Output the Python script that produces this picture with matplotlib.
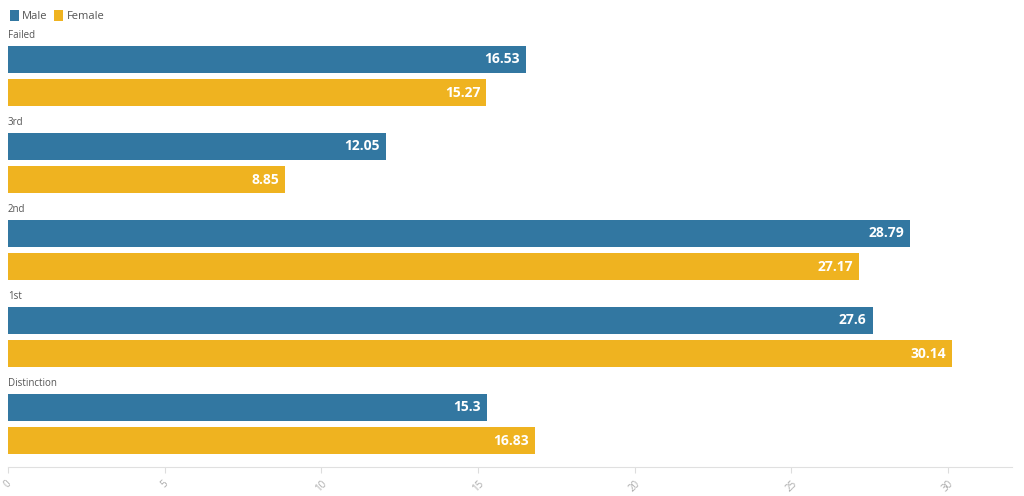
import matplotlib.pyplot as plt
from matplotlib.patches import Patch

plt.rcParams['font.family'] = ['Open Sans', 'DejaVu Sans']

grades = ["Failed", "3rd", "2nd", "1st", "Distinction"]
male = [16.53, 12.05, 28.79, 27.6, 15.3]
female = [15.27, 8.85, 27.17, 30.14, 16.83]
ticks = [0, 5, 10, 15, 20, 25, 30]

male_color = "#3277a1"
female_color = "#efb320"

fig = plt.figure(figsize=(10.24, 4.96), dpi=100)
ax = fig.add_axes([8 / 1024, 29 / 496, 1004 / 1024, 447 / 496])

n = len(grades)
bar_h = 0.31
gap = 0.385
for i, g in enumerate(grades):
    c = n - 1 - i
    ym = c + gap / 2
    yf = c - gap / 2
    ax.barh(ym, male[i], height=bar_h, color=male_color)
    ax.barh(yf, female[i], height=bar_h, color=female_color)
    ax.text(male[i] - 0.2, ym, str(male[i]), color="white", fontsize=10,
            fontweight="bold", ha="right", va="center")
    ax.text(female[i] - 0.2, yf, str(female[i]), color="white", fontsize=10,
            fontweight="bold", ha="right", va="center")
    ax.text(0, ym + bar_h / 2 + 0.05, g, color="#555555", fontsize=7,
            ha="left", va="bottom")

ax.set_xlim(0, 32.04)
ax.set_ylim(-0.494, 4.644)
ax.set_yticks([])
ax.set_xticks(ticks)
ax.set_xticklabels([str(t) for t in ticks], rotation=45, ha="center",
                   color="#aaaaaa", fontsize=7)
ax.tick_params(axis="x", length=4, color="#dddddd", pad=4)
for s in ["top", "right", "left"]:
    ax.spines[s].set_visible(False)
ax.spines["bottom"].set_color("#e0e0e0")

handles = [Patch(facecolor=male_color, label="Male"),
           Patch(facecolor=female_color, label="Female")]
fig.legend(handles=handles, loc="upper left", bbox_to_anchor=(0.0, 1.0),
           ncol=2, frameon=False, fontsize=8, handlelength=0.8,
           handleheight=1.2, handletextpad=0.3, columnspacing=0.6,
           labelcolor="#555555")

fig.savefig("out.png", dpi=100)
